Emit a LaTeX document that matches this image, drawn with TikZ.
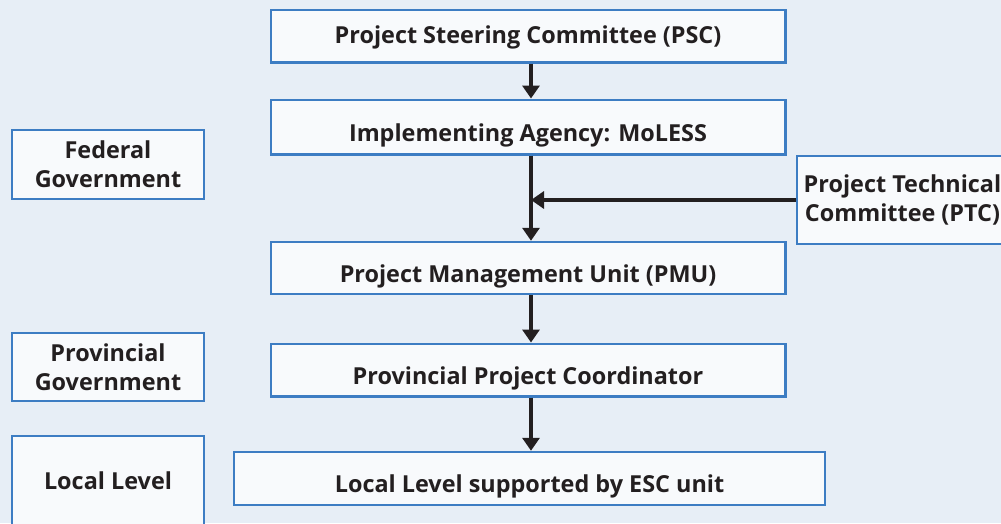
\documentclass[tikz,border=0pt]{standalone}
\usepackage{fontspec}
\setmainfont{Open Sans}
\usetikzlibrary{arrows.meta,positioning}
\definecolor{bgblue}{HTML}{E7EEF6}
\definecolor{boxblue}{HTML}{3D7DC3}
\definecolor{boxfill}{HTML}{F8FAFC}
\definecolor{ink}{HTML}{231F20}
\tikzset{
  unit/.style={draw=boxblue,fill=boxfill,line width=2.5pt,text=ink,inner sep=0pt,
    font=\fontsize{23.4}{29}\selectfont\bfseries},
  oneline/.style={unit,text height=32pt,text depth=4pt},
  twoline/.style={unit,align=center},
  flow/.style={draw=ink,line width=3.5pt,-{Triangle[length=13pt,width=17pt]}}
}

\begin{document}
\begin{tikzpicture}[x=1pt,y=-1pt]
            \fill [bgblue] (0,0) rectangle (1001,523);
            \useasboundingbox (0,0) rectangle (1001,523);
            \coordinate (spine) at (531,0);

            % chain of project units
            \node [oneline,text height=18pt,minimum width=514.5pt,minimum height=52.5pt] (psc) at (528,36) {Project Steering Committee (PSC)};
            \node [oneline,minimum width=514.5pt,minimum height=54.5pt] (agency) at (528,127) {Implementing Agency: MoLESS};
            \node [oneline,minimum width=514.5pt,minimum height=52pt] (pmu) at (528,268) {Project Management Unit (PMU)};
            \node [oneline,minimum width=514.5pt,minimum height=52.5pt] (coord) at (528,370) {Provincial Project Coordinator};
            \node [oneline,minimum width=591pt,minimum height=53pt] (local) at (529.5,478.5) {Local Level supported by ESC unit};
            \node [twoline,minimum width=211pt,minimum height=88pt] (ptc) at (902.5,200) {Project Technical\\Committee (PTC)};

            % government levels
            \node [twoline,minimum width=192pt,minimum height=69pt] (federal) at (108,164.5) {Federal\\Government};
            \node [twoline,minimum width=192pt,minimum height=68pt] (province) at (108,367) {Provincial\\Government};
            \node [oneline,text height=20.7pt,minimum width=192pt,minimum height=90pt] (locallvl) at (108,481) {Local Level};

            \draw [flow] (psc.south -| spine) -- (agency.north -| spine);
            \draw [flow] (agency.south -| spine) -- (pmu.north -| spine);
            \draw [flow] (pmu.south -| spine) -- (coord.north -| spine);
            \draw [flow] (coord.south -| spine) -- (local.north -| spine);
            \draw [flow] (ptc.west) -- (spine |- ptc.west);
\end{tikzpicture}
\end{document}
